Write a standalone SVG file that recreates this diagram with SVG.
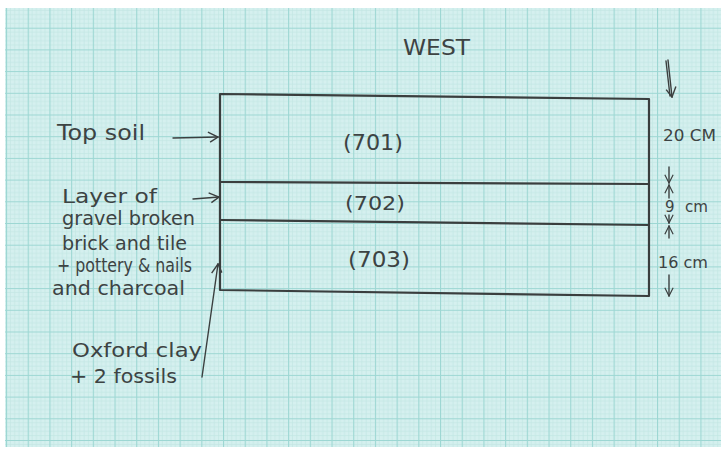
<svg xmlns="http://www.w3.org/2000/svg" width="721" height="450" viewBox="0 0 721 450">
<defs>
<pattern id="grid" x="6" y="6" width="21.7" height="21.7" patternUnits="userSpaceOnUse">
<rect width="21.7" height="21.7" fill="#d5f0ef"/>
<path d="M4.34,0V21.7M8.68,0V21.7M13.02,0V21.7M17.36,0V21.7M0,4.34H21.7M0,8.68H21.7M0,13.02H21.7M0,17.36H21.7" stroke="#c0e6e3" stroke-width="0.7" fill="none"/>
<path d="M0.5,0V21.7M0,0.5H21.7" stroke="#9dd7d3" stroke-width="1.2" fill="none"/>
</pattern>
<marker id="ah" viewBox="0 0 12 12" refX="11" refY="6" markerWidth="12" markerHeight="12" markerUnits="userSpaceOnUse" orient="auto">
<path d="M1,1 L11,6 L3,11" fill="none" stroke="#3b3f3f" stroke-width="1.4"/>
</marker>
<marker id="av" viewBox="0 0 12 12" refX="11" refY="6" markerWidth="10" markerHeight="10" markerUnits="userSpaceOnUse" orient="auto">
<path d="M1,1 L11,6 L1,11" fill="none" stroke="#3b3f3f" stroke-width="1.4"/>
</marker>
<style>
.pen{fill:none;stroke:#3a3e3e;stroke-width:2.2;stroke-linecap:round;stroke-linejoin:round}
.thin{fill:none;stroke:#3b3f3f;stroke-width:1.4;stroke-linecap:round}
.t{font-family:"DejaVu Sans","Liberation Sans",sans-serif;fill:#3d4343;font-weight:normal}
.s{font-size:19px}
.m{font-size:22px}
.r{font-size:15px}
</style>
</defs>
<rect width="721" height="450" fill="#ffffff"/>
<rect x="5" y="8" width="716" height="439" fill="url(#grid)"/>

<text class="t m" x="403" y="55" textLength="67" lengthAdjust="spacingAndGlyphs">WEST</text>

<g id="section">
<path class="pen" d="M220,94 L649,99 L649,296 L220,290 Z"/>
</g>
<g id="layer701">
<text class="t m" x="343" y="150" textLength="60" lengthAdjust="spacingAndGlyphs">(701)</text>
</g>
<g id="layer702">
<path class="pen" d="M220,182 L649,184"/>
<text class="t s" x="345" y="210" textLength="60" lengthAdjust="spacingAndGlyphs">(702)</text>
</g>
<g id="layer703">
<path class="pen" d="M220,220 L649,225"/>
<text class="t m" x="348" y="267" textLength="62" lengthAdjust="spacingAndGlyphs">(703)</text>
</g>

<g id="label-topsoil">
<text class="t m" x="57" y="140" textLength="88" lengthAdjust="spacingAndGlyphs">Top soil</text>
</g>
<g id="label-702">
<text class="t s" x="62" y="203" textLength="95" lengthAdjust="spacingAndGlyphs">Layer of</text>
<text class="t s" x="62" y="225" textLength="133" lengthAdjust="spacingAndGlyphs">gravel broken</text>
<text class="t s" x="62" y="250" textLength="125" lengthAdjust="spacingAndGlyphs">brick and tile</text>
<text class="t s" x="57" y="272" textLength="135" lengthAdjust="spacingAndGlyphs">+ pottery &amp; nails</text>
<text class="t s" x="52" y="295" textLength="133" lengthAdjust="spacingAndGlyphs">and charcoal</text>
</g>
<g id="label-703">
<text class="t s" x="72" y="357" textLength="130" lengthAdjust="spacingAndGlyphs">Oxford clay</text>
<text class="t s" x="70" y="383" textLength="107" lengthAdjust="spacingAndGlyphs">+ 2 fossils</text>
</g>
<g id="dimensions">
<text class="t r" x="663" y="141" textLength="53" lengthAdjust="spacingAndGlyphs">20 CM</text>
<text class="t r" x="665" y="212">9</text>
<text class="t r" x="685" y="212" textLength="23" lengthAdjust="spacingAndGlyphs">cm</text>
<text class="t r" x="658" y="268" textLength="50" lengthAdjust="spacingAndGlyphs">16 cm</text>
</g>

<g id="connectors">
<path class="thin" d="M173,138 L218,137" marker-end="url(#ah)"/>
<path class="thin" d="M193,199 L219,197" marker-end="url(#ah)"/>
<path class="thin" d="M202,377 L218,264" marker-end="url(#ah)"/>
<path class="thin" d="M668,60 L672,97" marker-end="url(#ah)"/>
<path class="thin" d="M666,61 L670,96"/>
<path class="thin" d="M669,167 L669,183" marker-end="url(#av)"/>
<path class="thin" d="M669,198 L669,185" marker-end="url(#av)"/>
<path class="thin" d="M669,215 L669,223" marker-end="url(#av)"/>
<path class="thin" d="M669,238 L669,226" marker-end="url(#av)"/>
<path class="thin" d="M669,275 L669,296" marker-end="url(#av)"/>
</g>
</svg>
